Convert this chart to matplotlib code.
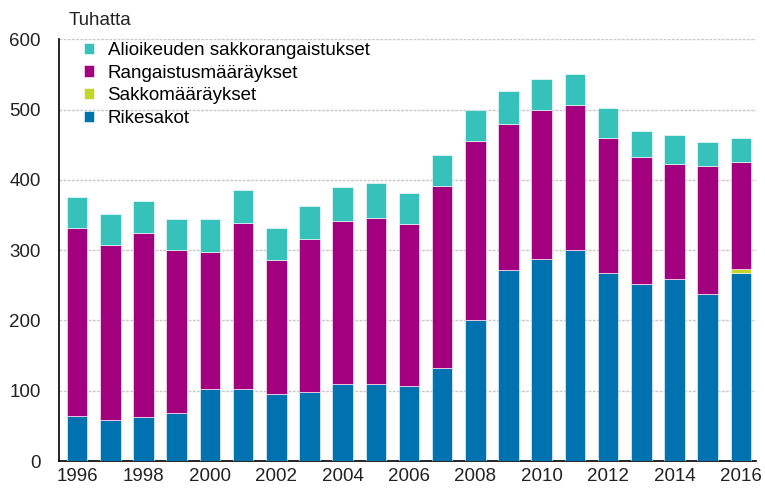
import numpy as np
import matplotlib.pyplot as plt

plt.rcParams['font.family'] = ['Liberation Sans', 'DejaVu Sans']

# values in thousands
years = list(range(1996, 2017))
rikesakot = [64, 59, 62, 68, 102, 102, 96, 98, 109, 109, 107, 132, 200, 272, 288, 300, 268, 252, 259, 238, 268]
sakkomaaraykset = [0] * 20 + [5]
rangaistusmaaraykset = [268, 248, 263, 232, 196, 237, 190, 218, 232, 237, 230, 259, 255, 208, 212, 207, 191, 180, 164, 181, 152]
alioikeuden = [44, 45, 45, 45, 47, 47, 45, 47, 49, 49, 44, 45, 45, 47, 43, 43, 43, 38, 41, 35, 34]

series = [
    ('Rikesakot', rikesakot, '#0072B0'),
    ('Sakkomääräykset', sakkomaaraykset, '#C5D62B'),
    ('Rangaistusmääräykset', rangaistusmaaraykset, '#A3007F'),
    ('Alioikeuden sakkorangaistukset', alioikeuden, '#36C2BA'),
]

fs = 13.5

fig = plt.figure(figsize=(7.65, 4.9), dpi=100)
ax = fig.add_axes([0.077, 0.059, 0.911, 0.861])

bottom = np.zeros(len(years))
handles = []
for name, vals, col in series:
    b = ax.bar(years, vals, width=0.62, bottom=bottom, color=col,
               edgecolor='white', linewidth=0.4, label=name, zorder=3)
    bottom += np.array(vals)
    handles.append(b)

ax.set_ylim(0, 600)
ax.set_xlim(1995.45, 2016.45)
ax.set_yticks(range(0, 601, 100))
ax.set_xticks(range(1996, 2017, 2))
ax.tick_params(axis='both', length=0, labelsize=fs, colors='#222222')
ax.tick_params(axis='y', pad=13)
ax.tick_params(axis='x', pad=5)

ax.grid(axis='y', color='#c8c8c8', linestyle=(0, (2, 1)), linewidth=1, zorder=0)
for s in ['top', 'right']:
    ax.spines[s].set_visible(False)
ax.spines['left'].set_color('black')
ax.spines['bottom'].set_color('black')
ax.spines['left'].set_linewidth(1.2)
ax.spines['bottom'].set_linewidth(1.2)

fig.text(0.09, 0.958, 'Tuhatta', fontsize=fs, color='#222222', va='center')

ax.legend(handles[::-1], [s[0] for s in series][::-1], loc='upper left',
          bbox_to_anchor=(0.02, 1.02), frameon=False, fontsize=fs,
          handlelength=0.55, handleheight=0.55, handletextpad=0.7,
          labelspacing=0.3, borderaxespad=0.2)

fig.savefig('out.png', dpi=100)
